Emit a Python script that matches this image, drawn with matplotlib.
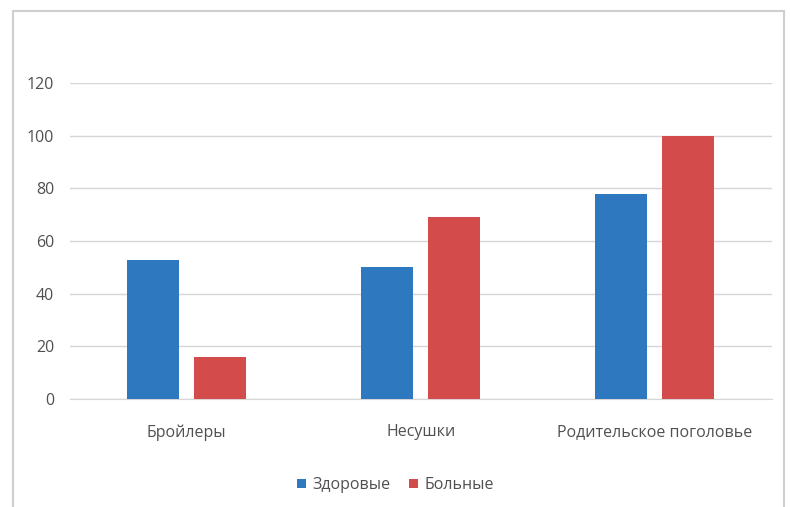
import matplotlib.pyplot as plt
import matplotlib.patches as mpatches
import numpy as np

plt.rcParams['font.family'] = ['Open Sans', 'DejaVu Sans']

# poultry groups and counts
categories = ['Бройлеры', 'Несушки', 'Родительское поголовье']
healthy = [53, 50, 78]
sick = [16, 69, 100]
series_names = ['Здоровые', 'Больные']
yticks = [0, 20, 40, 60, 80, 100, 120]

blue = '#2e78bf'
red = '#d34b4b'
text_color = '#505050'

fig = plt.figure(figsize=(7.91, 5.07), dpi=100)
ax = fig.add_axes([0.088, 0.213, 0.888, 0.623])

# outer chart frame, open at the bottom edge of the image
fig.patches.append(mpatches.Rectangle((13 / 791, -10 / 507), 771 / 791, 506 / 507,
                                      transform=fig.transFigure, fill=False,
                                      edgecolor='#cfcfcf', linewidth=1.5))

x = np.arange(len(categories))
w = 0.222
off = 0.143
ax.bar(x - off, healthy, w, color=blue, label=series_names[0], zorder=3)
ax.bar(x + off, sick, w, color=red, label=series_names[1], zorder=3)

ax.set_xlim(-0.5, len(categories) - 0.5)
ax.set_ylim(0, 120)
ax.set_yticks(yticks)
ax.set_xticks(x)
ax.set_xticklabels(categories)
ax.grid(axis='y', color='#d6d6d6', linewidth=1, zorder=0)
for s in ['top', 'right', 'left']:
    ax.spines[s].set_visible(False)
ax.spines['bottom'].set_color('#d6d6d6')
ax.tick_params(axis='y', length=0, pad=11, labelsize=11.5, labelcolor=text_color)
ax.tick_params(axis='x', length=0, pad=18, labelsize=11.5, labelcolor=text_color)

fig.legend(loc='center', bbox_to_anchor=(0.5, 1 - 485 / 507), ncol=2, frameon=False,
           fontsize=11.5, labelcolor=text_color, handlelength=0.55, handleheight=0.55,
           handletextpad=0.4, columnspacing=1.2)

fig.savefig('out.png', dpi=100)
